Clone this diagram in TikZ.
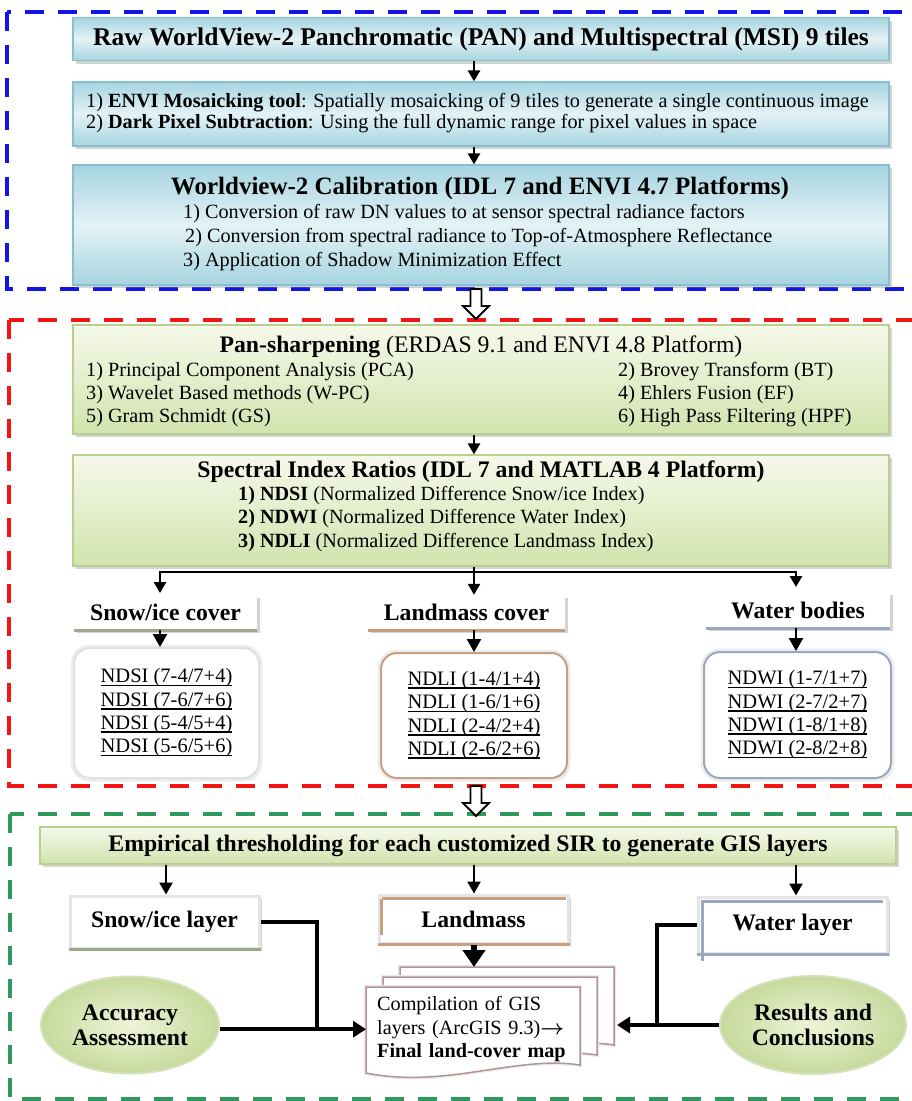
\documentclass[tikz,border=0pt]{standalone}
\usepackage{fontspec}
\setmainfont{Liberation Serif}
\usetikzlibrary{calc, arrows.meta, positioning, shadows, shapes.geometric}

\definecolor{frblue}{HTML}{1414E6}
\definecolor{frred}{HTML}{F41414}
\definecolor{frgreen}{HTML}{2E9A5E}
\definecolor{calline}{HTML}{86C0D0}
\definecolor{caltop}{HTML}{A6D4E0}
\definecolor{calmid}{HTML}{E4F2F6}
\definecolor{sirline}{HTML}{B8CF8E}
\definecolor{sirtop}{HTML}{F5F9EA}
\definecolor{sirbot}{HTML}{D2E3AE}
\definecolor{snowc}{HTML}{9AAB84}
\definecolor{landc}{HTML}{C9A07F}
\definecolor{waterc}{HTML}{98A8BF}
\definecolor{pagec}{HTML}{B39494}
\definecolor{ovalin}{HTML}{EEF4D9}
\definecolor{ovalout}{HTML}{C6DA9C}

\newcommand{\ratioline}[1]{\setbox0\hbox{#1}\rlap{\rule[-3.5pt]{\wd0}{1.6pt}}\box0}

\begin{document}
\begin{tikzpicture}[x=1pt, y=-1pt, >={Triangle[length=11pt, width=12pt]}]
				\tikzstyle{frame} = [line width=4pt, dash pattern=on 19pt off 14pt]
				\tikzstyle{shade} = [drop shadow={shadow xshift=2.5pt, shadow yshift=-3pt, opacity=0.35}]
				\tikzstyle{calbox} = [shade, draw=calline, line width=1.2pt, top color=caltop, bottom color=caltop, middle color=calmid, minimum width=816pt, inner sep=0pt]
				\tikzstyle{sirbox} = [shade, draw=sirline, line width=1.2pt, top color=sirtop, bottom color=sirbot, minimum width=816pt, inner sep=0pt]
				\tikzstyle{head} = [inner sep=0pt, font=\bfseries\fontsize{23.7}{26}\selectfont]
				\tikzstyle{txt} = [inner sep=0pt, align=left, font=\fontsize{20.2}{23.5}\selectfont]
				\tikzstyle{cover} = [shade, fill=white, inner sep=0pt, font=\bfseries\fontsize{23.7}{26}\selectfont]
				\tikzstyle{ratio} = [shade, fill=white, rounded corners=16pt, line width=2pt, preaction={draw=black!7, line width=7pt}, inner sep=0pt, align=center, font=\fontsize{20.5}{23.3}\selectfont]
				\tikzstyle{layer} = [shade, fill=white, draw=black!10, line width=3pt, inner sep=0pt, font=\bfseries\fontsize{23.7}{26}\selectfont]
				\tikzstyle{oval} = [ellipse, draw=sirline!60, line width=2pt, inner color=ovalin, outer color=ovalout, inner sep=0pt, align=center, font=\bfseries\fontsize{23.7}{25}\selectfont]
				\tikzstyle{page} = [fill=white, draw=pagec, line width=1.5pt, preaction={draw=black!8, line width=4pt}]
				\tikzstyle{line} = [line width=2.6pt]
				\tikzstyle{fat} = [line width=4.5pt]
				\tikzstyle{hollow} = [draw=black, line width=1.8pt, fill=white]
				
				\useasboundingbox (0,0) rectangle (912,1101);
				
				% dashed frames
				\draw[frame, draw=frblue] (7,12) rectangle (920,289);
				\draw[frame, draw=frred] (9,320) rectangle (920,786);
				\draw[frame, draw=frgreen] (10,814) rectangle (920,1099);
				
				\coordinate (axis) at (474,0);
				
				% preprocessing
				\node[calbox, minimum height=43pt, head, font=\bfseries\fontsize{25.5}{27}\selectfont] (raw) at (481,39) {Raw WorldView-2 Panchromatic (PAN) and Multispectral (MSI) 9 tiles};
				\node[calbox, minimum height=64pt] (mosaic) at (481,114) {};
				\node[txt, anchor=west, font=\fontsize{20.2}{21}\selectfont] (mosaict) at (86,113) {1) \textbf{ENVI Mosaicking tool}: Spatially mosaicking of 9 tiles to generate a single continuous image\\2) \textbf{Dark Pixel Subtraction}: Using the full dynamic range for pixel values in space};
				\node[calbox, minimum height=120pt] (calib) at (481,225) {};
				\node[head, font=\bfseries\fontsize{25}{27}\selectfont] (calibt) at (480,188) {Worldview-2 Calibration (IDL 7 and ENVI 4.7 Platforms)};
				\node[txt, anchor=west, font=\fontsize{20.2}{24}\selectfont] (calibs) at (183,238) {1) Conversion of raw DN values to at sensor spectral radiance factors\\\hspace{2pt}2) Conversion from spectral radiance to Top-of-Atmosphere Reflectance\\3) Application of Shadow Minimization Effect};
				
				\path[->, line]
				(raw.south -| axis)		edge	(mosaic.north -| axis)
				(mosaic.south -| axis)	edge	(calib.north -| axis);
				
				% indices
				\node[sirbox, minimum height=109pt] (pan) at (481,379.5) {};
				\node[head] (pant) at (481,347) {Pan-sharpening \mdseries(ERDAS 9.1 and ENVI 4.8 Platform)};
				\node[txt, anchor=west, font=\fontsize{20.2}{23}\selectfont] (panl) at (86,395) {1) Principal Component Analysis (PCA)\\3) Wavelet Based methods (W-PC)\\5) Gram Schmidt (GS)};
				\node[txt, anchor=west, font=\fontsize{20.2}{23}\selectfont] (panr) at (618,395) {2) Brovey Transform (BT)\\4) Ehlers Fusion (EF)\\6) High Pass Filtering (HPF)};
				\node[sirbox, minimum height=111pt] (sir) at (481,510.5) {};
				\node[head] (sirt) at (481,472) {Spectral Index Ratios (IDL 7 and MATLAB 4 Platform)};
				\node[txt, anchor=west] (sirs) at (238,519) {\textbf{1) NDSI} (Normalized Difference Snow/ice Index)\\\textbf{2) NDWI} (Normalized Difference Water Index)\\\textbf{3) NDLI} (Normalized Difference Landmass Index)};
				
				\path[->, line] (pan.south -| axis) edge (sir.north -| axis);
				
				\node[cover, minimum width=183pt, minimum height=35pt] (hsnow) at (165.5,612.5) {Snow/ice cover};
				\node[cover, minimum width=197pt, minimum height=35pt] (hland) at (466.5,612.5) {Landmass cover};
				\node[cover, minimum width=184pt, minimum height=36pt] (hwater) at (798,610) {Water bodies};
				\draw[snowc, line width=3pt] (hsnow.south west) -- (hsnow.south east);
				\draw[landc, line width=3pt] (hland.south west) -- (hland.south east);
				\draw[waterc, line width=3pt] (hwater.south west) -- (hwater.south east);
				
				\coordinate (fork) at (474,572);
				\draw[line] (sir.south -| fork) -- (fork);
				\draw[->, line] (fork) -| (160,593);
				\draw[->, line] (fork) -- (hland.north -| fork);
				\draw[->, line] (fork) -| (796,587);
				
				\node[ratio, draw=black!12, minimum width=185pt, minimum height=130pt] (rsnow) at (166.5,713) {\ratioline{NDSI (7-4/7+4)}\\\ratioline{NDSI (7-6/7+6)}\\\ratioline{NDSI (5-4/5+4)}\\\ratioline{NDSI (5-6/5+6)}};
				\node[ratio, draw=landc, minimum width=186pt, minimum height=125pt] (rland) at (474,715.5) {\ratioline{NDLI (1-4/1+4)}\\\ratioline{NDLI (1-6/1+6)}\\\ratioline{NDLI (2-4/2+4)}\\\ratioline{NDLI (2-6/2+6)}};
				\node[ratio, draw=waterc, minimum width=187pt, minimum height=126pt] (rwater) at (797.5,715) {\ratioline{NDWI (1-7/1+7)}\\\ratioline{NDWI (2-7/2+7)}\\\ratioline{NDWI (1-8/1+8)}\\\ratioline{NDWI (2-8/2+8)}};
				
				\path[->, line, >={Triangle[length=13pt, width=14pt]}]
				(hsnow.south -| 160,0)	edge	(rsnow.north -| 160,0)
				(hland.south -| axis)	edge	(rland.north -| axis)
				(hwater.south -| 796,0)	edge	(rwater.north -| 796,0);
				
				% hollow arrows between frames
				\foreach \y in {289, 786}
				\draw[hollow, shift={(476,\y)}] (-5.5,0) -- (-5.5,17) -- (-13,17) -- (0,30) -- (13,17) -- (5.5,17) -- (5.5,0) -- cycle;
				
				% GIS layers
				\node[sirbox, minimum width=856pt, minimum height=37pt, head] (thr) at (468,845.5) {Empirical thresholding for each customized SIR to generate GIS layers};
				
				\node[layer, minimum width=189pt, minimum height=52pt] (lsnow) at (164.5,922) {Snow/ice layer};
				\node[layer, minimum width=189pt, minimum height=48pt] (lland) at (473.5,919) {Landmass};
				\node[layer, minimum width=189pt, minimum height=56pt] (lwater) at (792.5,925) {Water layer};
				\draw[landc, line width=2.5pt] ([shift={(4,5)}]lland.north west) -- ([shift={(-4,5)}]lland.north east);
				\draw[landc, line width=2.5pt] ([shift={(4,5)}]lland.north west) -- ([shift={(4,-10)}]lland.south west);
				\draw[landc, line width=2.5pt] (lland.south west) -- (lland.south east);
				\draw[waterc, line width=2.5pt] ([shift={(6,6)}]lwater.south west) |- ([shift={(-6,6)}]lwater.north east);
				\draw[waterc, line width=2.5pt] (lwater.south west) -- (lwater.south east);
				\draw[snowc, line width=2.5pt] (lsnow.south west) -- (lsnow.south east);
				
				\path[->, line, >={Triangle[length=12pt, width=13pt]}]
				(thr.south -| 166,0)	edge	(lsnow.north -| 166,0)
				(thr.south -| axis)		edge	(lland.north -| axis)
				(thr.south -| 796,0)	edge	(lwater.north -| 796,0);
				
				% stacked map pages
				\coordinate (docnw) at (366,987);
				\foreach \dx/\dy in {34/-20, 17/-10, 0/0}
				\draw[page, shift={(docnw)}, shift={(\dx,\dy)}] (0,0) -- (214,0) -- (214,78) .. controls (150,68) and (80,102) .. (0,86) -- cycle;
				\node[txt, anchor=north west, text width=192pt, inner xsep=11pt, inner ysep=0pt, minimum height=84pt] (doc) at (docnw) {Compilation of GIS\\layers (ArcGIS 9.3){\boldmath$\rightarrow$}\\\textbf{Final land-cover map}};
				\coordinate (page3n) at ($(docnw)+(108,-20)$);
				\coordinate (page3e) at ($(docnw)+(251,38)$);
				
				\node[oval, minimum width=178pt, minimum height=97pt] (acc) at (130,1025) {Accuracy\\Assessment};
				\node[oval, minimum width=186pt, minimum height=98pt] (res) at (813,1025) {Results and\\Conclusions};
				
				\coordinate (jl) at (317,1029);
				\coordinate (jr) at (657,1025);
				\draw[fat] (lsnow.east) -| (jl);
				\draw[fat, -{Triangle[length=13pt, width=16pt]}] (acc.east |- doc.west) -- (doc.west);
				\draw[fat] (lwater.west) -| (jr);
				\draw[fat, -{Triangle[length=13pt, width=16pt]}] (res.west) -- (page3e);
				\draw[line width=6pt, -{Triangle[length=17pt, width=22pt]}] (lland.south -| axis) -- (page3n);
\end{tikzpicture}
\end{document}
